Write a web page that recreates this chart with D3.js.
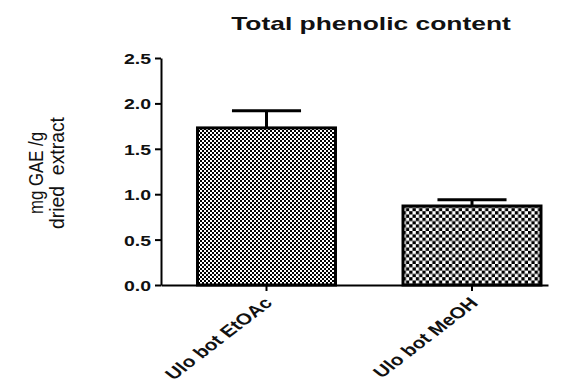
<!DOCTYPE html>
<html>
<head>
<meta charset="utf-8">
<script src="https://cdn.jsdelivr.net/npm/d3@7"></script>
<style>
  body { margin: 0; background: #fff; }
  svg { display: block; font-family: "Liberation Sans", Arial, sans-serif; }
  text { white-space: pre; }
</style>
</head>
<body>
<svg width="563" height="382"></svg>
<script>
var categories = ["Ulo bot EtOAc", "Ulo bot MeOH"];
var means = [1.73, 0.87];
var errors = [0.19, 0.07];
var yTicks = [0, 0.5, 1.0, 1.5, 2.0, 2.5];
var title = "Total phenolic content";
var yLabel = ["mg GAE /g", "dried  extract"];
var yLabelLen = [82, 112];

var svg = d3.select("svg"),
    stretch = 1.3;

var x = d3.scaleBand()
    .domain(categories)
    .range([161, 548])
    .paddingInner(0.314)
    .paddingOuter(0.0986)
    .align(0.864);

var y = d3.scaleLinear()
    .domain([0, 2.5])
    .range([285, 58]);

// checker patterns
var defs = svg.append("defs");
function checker(id, size) {
  var p = defs.append("pattern")
      .attr("id", id)
      .attr("patternUnits", "userSpaceOnUse")
      .attr("width", size * 2)
      .attr("height", size * 2);
  p.append("rect").attr("width", size * 2).attr("height", size * 2).attr("fill", "#fff");
  p.append("rect").attr("width", size).attr("height", size).attr("fill", "#000");
  p.append("rect").attr("x", size).attr("y", size).attr("width", size).attr("height", size).attr("fill", "#000");
}
checker("fine", 2);
checker("coarse", 3.3);
var fills = ["url(#fine)", "url(#coarse)"];

var data = categories.map(function(c, i) {
  return {name: c, mean: means[i], err: errors[i], fill: fills[i]};
});

// error bars (drawn under the bars)
var eb = svg.append("g").attr("stroke", "#000").attr("stroke-width", 3);
data.forEach(function(d) {
  var cx = x(d.name) + x.bandwidth() / 2,
      half = x.bandwidth() * 0.245;
  eb.append("line")
      .attr("x1", cx).attr("x2", cx)
      .attr("y1", y(d.mean)).attr("y2", y(d.mean + d.err));
  eb.append("line")
      .attr("x1", cx - half).attr("x2", cx + half)
      .attr("y1", y(d.mean + d.err)).attr("y2", y(d.mean + d.err));
});

// bars
svg.append("g").selectAll("rect")
  .data(data)
  .join("rect")
    .attr("x", function(d) { return x(d.name) + 1.5; })
    .attr("width", x.bandwidth() - 3)
    .attr("y", function(d) { return y(d.mean); })
    .attr("height", function(d) { return y(0) - y(d.mean); })
    .attr("fill", function(d) { return d.fill; })
    .attr("stroke", "#000")
    .attr("stroke-width", 3);

// y axis
var yAxis = svg.append("g")
    .attr("transform", "translate(161,0)")
    .call(d3.axisLeft(y).tickValues(yTicks).tickFormat(d3.format(".1f")).tickSize(6).tickSizeOuter(0));
yAxis.selectAll("path, line").attr("stroke", "#000").attr("stroke-width", 2);
yAxis.selectAll("text").remove();
yAxis.selectAll(".tick").append("text")
    .attr("transform", "translate(-10,0) scale(" + stretch + ",1)")
    .attr("dy", "0.36em")
    .attr("text-anchor", "end")
    .attr("font-size", 15)
    .attr("font-weight", "bold")
    .attr("fill", "#111")
    .text(d3.format(".1f"));

// x axis
var xAxis = svg.append("g")
    .attr("transform", "translate(0,285)")
    .call(d3.axisBottom(x).tickSize(6).tickSizeOuter(0));
xAxis.selectAll("path, line").attr("stroke", "#000").attr("stroke-width", 2);
xAxis.selectAll("text").remove();
xAxis.selectAll(".tick").append("text")
    .attr("transform", "translate(7,19) scale(" + stretch + ",1) rotate(-45)")
    .attr("text-anchor", "end")
    .attr("font-size", 16)
    .attr("font-weight", "bold")
    .attr("fill", "#111")
    .text(function(d) { return d; });

// title
svg.append("text")
    .attr("transform", "translate(371,30) scale(1.39,1)")
    .attr("text-anchor", "middle")
    .attr("font-size", 19)
    .attr("font-weight", "bold")
    .attr("fill", "#111")
    .text(title);

// y label, two lines
yLabel.forEach(function(t, i) {
  svg.append("text")
      .attr("transform", "translate(" + (43 + i * 21) + ",173) rotate(-90) scale(1," + stretch + ")")
      .attr("text-anchor", "middle")
      .attr("font-size", 16)
      .attr("textLength", yLabelLen[i])
      .attr("lengthAdjust", "spacingAndGlyphs")
      .attr("fill", "#111")
      .text(t);
});
</script>
</body>
</html>
